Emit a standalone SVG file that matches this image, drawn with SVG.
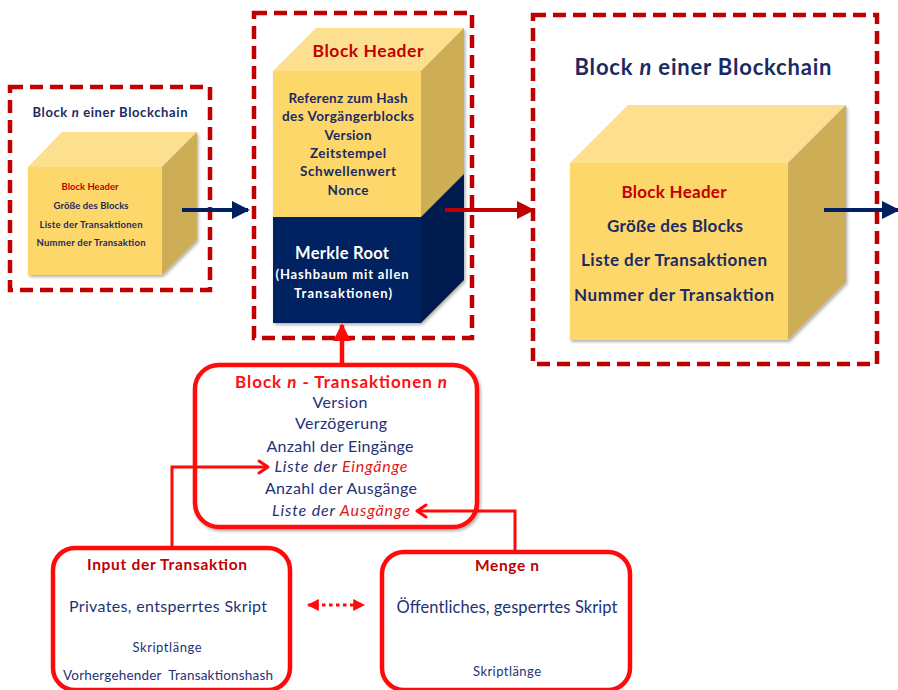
<svg xmlns="http://www.w3.org/2000/svg" width="898" height="690" viewBox="0 0 898 690">
<style>
text{font-family:Lato,"Open Sans","Liberation Sans",sans-serif;text-anchor:middle}
.b{font-weight:bold}
.nv{fill:#1B2A63}
.tnv{fill:#1F3275}
.rd{fill:#C00000}
.brd{fill:#FF1010}
.wt{fill:#FFFFFF}
.dash{fill:none;stroke:#C00000;stroke-width:4.5;stroke-dasharray:13 7}
.front{fill:#FDD76A}
.top{fill:#FDE08F}
.side{fill:#CDAE57}
.nfront{fill:#002060}
.nside{fill:#001B4F}
.rbox{fill:#FFFFFF;stroke:#FF0A0A;stroke-width:4.5}
.it{font-style:italic}
</style>
<defs>
<marker id="hNavy" viewBox="0 0 10 10" refX="9" refY="5" markerWidth="4.5" markerHeight="4.5" orient="auto" markerUnits="strokeWidth"><path d="M0,0 L10,5 L0,10 z" fill="#002060"/></marker>
<marker id="hRed" viewBox="0 0 10 10" refX="9" refY="5" markerWidth="4.5" markerHeight="4.5" orient="auto" markerUnits="strokeWidth"><path d="M0,0 L10,5 L0,10 z" fill="#C00000"/></marker>
<marker id="hBright" viewBox="0 0 10 10" refX="9" refY="5" markerWidth="4" markerHeight="4" orient="auto" markerUnits="strokeWidth"><path d="M0,0 L10,5 L0,10 z" fill="#FF0A0A"/></marker>
<marker id="hDot" viewBox="0 0 10 10" refX="9" refY="5" markerWidth="4" markerHeight="4" orient="auto-start-reverse" markerUnits="strokeWidth"><path d="M0,0 L10,5 L0,10 z" fill="#FF0A0A"/></marker>
<filter id="sh" x="-10%" y="-10%" width="130%" height="130%"><feDropShadow dx="1.5" dy="2" stdDeviation="1.5" flood-color="#000" flood-opacity="0.3"/></filter>
</defs>

<g id="block-left">
<rect class="dash" x="10" y="87" width="200" height="203"/>
<text class="b nv" x="110" y="117" font-size="13" textLength="155">Block <tspan class="it">n</tspan> einer Blockchain</text>
<g filter="url(#sh)">
<polygon class="top" points="28,167 62,132 197,132 162,167"/>
<polygon class="side" points="162,167 197,132 197,240 162,275"/>
<rect class="front" x="28" y="167" width="134" height="108"/>
</g>
<text class="b rd" x="90" y="190" font-size="9.5" textLength="57">Block Header</text>
<text class="b nv" x="91" y="209" font-size="9.5" textLength="75">Größe des Blocks</text>
<text class="b nv" x="91" y="228" font-size="9.5" textLength="103">Liste der Transaktionen</text>
<text class="b nv" x="91" y="246" font-size="9.5" textLength="109">Nummer der Transaktion</text>
</g>

<g id="block-header">
<rect class="dash" x="254" y="13" width="218" height="325"/>
<g filter="url(#sh)">
<polygon class="top" points="273,71 316,28 464,28 421,71"/>
<polygon class="side" points="421,71 464,28 464,174 421,217"/>
<polygon class="nside" points="421,217 464,174 464,280 421,323"/>
<rect class="front" x="273" y="71" width="148" height="146"/>
<rect class="nfront" x="273" y="217" width="148" height="106"/>
</g>
<text class="b rd" x="368" y="57" font-size="17.5" textLength="111">Block Header</text>
<text class="b nv" x="348" y="103" font-size="13.5" textLength="119">Referenz zum Hash</text>
<text class="b nv" x="348" y="121" font-size="13.5" textLength="132">des Vorgängerblocks</text>
<text class="b nv" x="348" y="140" font-size="13.5" textLength="47">Version</text>
<text class="b nv" x="348" y="158" font-size="13.5" textLength="76">Zeitstempel</text>
<text class="b nv" x="348" y="176" font-size="13.5" textLength="96">Schwellenwert</text>
<text class="b nv" x="348" y="195" font-size="13.5" textLength="41">Nonce</text>
<text class="b wt" x="342" y="259" font-size="16.5" textLength="94">Merkle Root</text>
<text class="b wt" x="342" y="279" font-size="13" textLength="133">(Hashbaum mit allen</text>
<text class="b wt" x="343" y="298" font-size="13" textLength="98">Transaktionen)</text>
</g>

<g id="block-right">
<rect class="dash" x="533" y="15" width="344" height="349"/>
<text class="b nv" x="703" y="75" font-size="22" textLength="257">Block <tspan class="it">n</tspan> einer Blockchain</text>
<g filter="url(#sh)">
<polygon class="top" points="570,163 628,105 846,105 788,163"/>
<polygon class="side" points="788,163 846,105 846,282 788,340"/>
<rect class="front" x="570" y="163" width="218" height="177"/>
</g>
<text class="b rd" x="674" y="198" font-size="17" textLength="105">Block Header</text>
<text class="b nv" x="675" y="232" font-size="17" textLength="136">Größe des Blocks</text>
<text class="b nv" x="674" y="266" font-size="17" textLength="186">Liste der Transaktionen</text>
<text class="b nv" x="674" y="301" font-size="17" textLength="200">Nummer der Transaktion</text>
</g>

<g id="transaktionen">
<rect class="rbox" x="195" y="365" width="282" height="162" rx="24" filter="url(#sh)"/>
<text class="b brd" x="341" y="388" font-size="17" textLength="212">Block <tspan class="it">n</tspan> - Transaktionen  <tspan class="it">n</tspan></text>
<text class="tnv" x="340" y="408" font-size="16" textLength="55">Version</text>
<text class="tnv" x="341" y="429" font-size="16" textLength="92">Verzögerung</text>
<text class="tnv" x="340" y="452" font-size="16" textLength="147">Anzahl der Eingänge</text>
<text class="tnv it" x="341" y="472" font-size="16" textLength="133">Liste der <tspan fill="#E01818">Eingänge</tspan></text>
<text class="tnv" x="341" y="494" font-size="16" textLength="152">Anzahl der Ausgänge</text>
<text class="tnv it" x="341" y="516" font-size="16" textLength="138">Liste der <tspan fill="#E01818">Ausgänge</tspan></text>
</g>

<g id="input">
<rect class="rbox" x="53" y="548" width="237" height="142" rx="22"/>
<text class="b rd" x="167" y="570" font-size="15.5" textLength="160">Input der Transaktion</text>
<text class="tnv" x="168" y="612" font-size="16" textLength="198">Privates, entsperrtes Skript</text>
<text class="tnv" x="167" y="652" font-size="13" textLength="69">Skriptlänge</text>
<text class="tnv" x="168" y="680" font-size="13.5" textLength="210" xml:space="preserve">Vorhergehender  Transaktionshash</text>
</g>

<g id="menge">
<rect class="rbox" x="382" y="552" width="248" height="138" rx="22"/>
<text class="b rd" x="507" y="571" font-size="15.5" textLength="64">Menge n</text>
<text class="tnv" x="507" y="613" font-size="16.5" textLength="221">Öffentliches, gesperrtes Skript</text>
<text class="tnv" x="507" y="676" font-size="13" textLength="68">Skriptlänge</text>
</g>

<g id="connectors">
<line x1="182" y1="210" x2="248" y2="210" stroke="#002060" stroke-width="4" marker-end="url(#hNavy)"/>
<line x1="445" y1="210" x2="533" y2="210" stroke="#C00000" stroke-width="4" marker-end="url(#hRed)"/>
<line x1="824" y1="210" x2="898" y2="210" stroke="#002060" stroke-width="4" marker-end="url(#hNavy)"/>
<line x1="342" y1="365" x2="342" y2="325" stroke="#FF0A0A" stroke-width="4.5" marker-end="url(#hBright)"/>
<polyline points="172,548 172,467 268,467" fill="none" stroke="#FF0A0A" stroke-width="3"/>
<polyline points="259,461 268,467 259,473" fill="none" stroke="#FF0A0A" stroke-width="3" stroke-linecap="round" stroke-linejoin="round"/>
<polyline points="515,552 515,511 417,511" fill="none" stroke="#FF0A0A" stroke-width="3"/>
<polyline points="426,505 417,511 426,517" fill="none" stroke="#FF0A0A" stroke-width="3" stroke-linecap="round" stroke-linejoin="round"/>
<line x1="308" y1="605" x2="364" y2="605" stroke="#FF0A0A" stroke-width="3" stroke-dasharray="3.5 3.5" marker-start="url(#hDot)" marker-end="url(#hDot)"/>
</g>
</svg>
